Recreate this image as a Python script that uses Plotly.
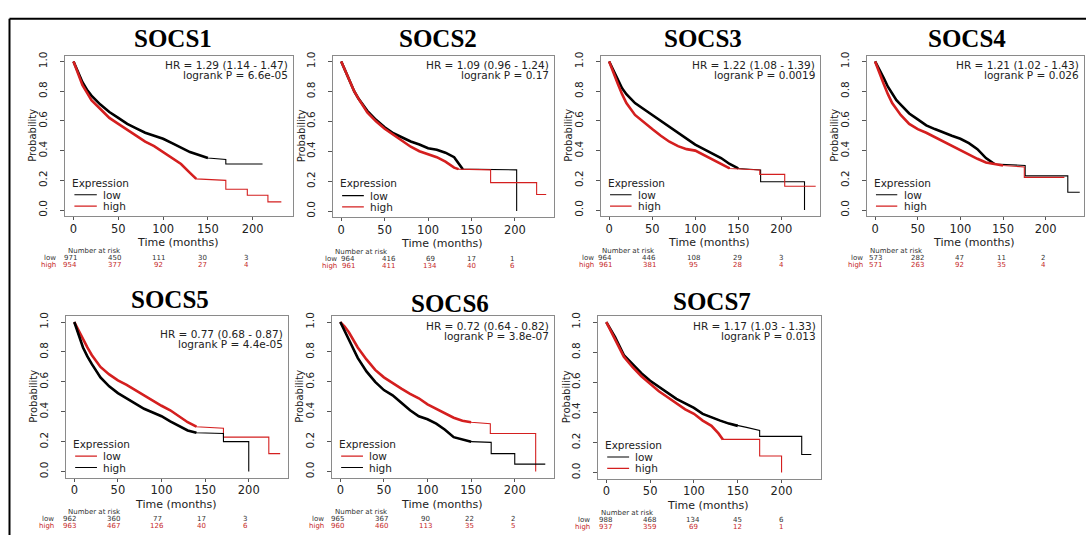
import plotly.graph_objects as go

# ---------------- data ----------------
genes = ["SOCS1", "SOCS2", "SOCS3", "SOCS4", "SOCS5", "SOCS6", "SOCS7"]
hr_labels = ["HR = 1.29 (1.14 - 1.47)", "HR = 1.09 (0.96 - 1.24)", "HR = 1.22 (1.08 - 1.39)",
             "HR = 1.21 (1.02 - 1.43)", "HR = 0.77 (0.68 - 0.87)", "HR = 0.72 (0.64 - 0.82)",
             "HR = 1.17 (1.03 - 1.33)"]
logrank_labels = ["logrank P = 6.6e-05", "logrank P = 0.17", "logrank P = 0.0019",
                  "logrank P = 0.026", "logrank P = 4.4e-05", "logrank P = 3.8e-07",
                  "logrank P = 0.013"]
x_ticks = [0, 50, 100, 150, 200]
y_ticks = [0.0, 0.2, 0.4, 0.6, 0.8, 1.0]
y_tick_text = ["0.0", "0.2", "0.4", "0.6", "0.8", "1.0"]
risk_times = [0, 50, 100, 150, 200]

risk_low = [[971, 450, 111, 30, 3], [964, 416, 69, 17, 1], [964, 446, 108, 29, 3],
            [573, 282, 47, 11, 2], [962, 360, 77, 17, 3], [965, 367, 90, 22, 2],
            [988, 468, 134, 45, 6]]
risk_high = [[954, 377, 92, 27, 4], [961, 411, 134, 40, 6], [961, 381, 95, 28, 4],
             [571, 263, 92, 35, 4], [963, 467, 126, 40, 6], [960, 460, 113, 35, 5],
             [937, 359, 69, 12, 1]]
# in SOCS5 and SOCS6 the "low" group is drawn red and "high" black
low_is_red = [False, False, False, False, True, True, False]

socs1_low_t = [0, 5, 10, 15, 20, 30, 40, 50, 60, 70, 80, 90, 100, 110, 120, 130, 140, 150, 170, 170, 211]
socs1_low_s = [1.0, 0.93, 0.86, 0.81, 0.77, 0.71, 0.66, 0.62, 0.58, 0.55, 0.52, 0.50, 0.48, 0.45, 0.42, 0.39, 0.37, 0.35, 0.34, 0.31, 0.31]
socs1_high_t = [0, 5, 10, 15, 20, 30, 40, 50, 60, 70, 80, 90, 100, 110, 120, 130, 137, 170, 170, 194, 194, 217, 217, 232]
socs1_high_s = [1.0, 0.92, 0.84, 0.79, 0.74, 0.68, 0.62, 0.58, 0.54, 0.50, 0.46, 0.43, 0.39, 0.35, 0.31, 0.25, 0.21, 0.20, 0.14, 0.14, 0.10, 0.10, 0.055, 0.055]

socs2_low_t = [0, 5, 10, 15, 20, 30, 40, 50, 60, 70, 80, 90, 100, 110, 120, 130, 140, 202, 202]
socs2_low_s = [1.0, 0.93, 0.86, 0.80, 0.75, 0.67, 0.61, 0.56, 0.52, 0.49, 0.465, 0.445, 0.42, 0.41, 0.39, 0.36, 0.28, 0.275, 0.0]
socs2_high_t = [0, 5, 10, 15, 20, 30, 40, 50, 60, 70, 80, 90, 100, 110, 120, 130, 135, 172, 172, 225, 225, 236]
socs2_high_s = [1.0, 0.93, 0.86, 0.80, 0.75, 0.66, 0.60, 0.55, 0.51, 0.47, 0.43, 0.40, 0.38, 0.36, 0.33, 0.29, 0.28, 0.275, 0.19, 0.19, 0.11, 0.11]

socs3_low_t = [0, 5, 10, 15, 20, 30, 40, 50, 60, 70, 80, 90, 100, 110, 120, 130, 140, 150, 176, 176, 227, 227]
socs3_low_s = [1.0, 0.94, 0.88, 0.82, 0.78, 0.72, 0.68, 0.64, 0.60, 0.56, 0.52, 0.48, 0.44, 0.41, 0.38, 0.35, 0.31, 0.28, 0.27, 0.19, 0.19, 0.0]
socs3_high_t = [0, 5, 10, 15, 20, 30, 40, 50, 60, 70, 80, 90, 100, 110, 120, 130, 140, 175, 175, 204, 204, 240]
socs3_high_s = [1.0, 0.92, 0.85, 0.78, 0.72, 0.64, 0.59, 0.545, 0.50, 0.46, 0.43, 0.41, 0.40, 0.37, 0.34, 0.31, 0.28, 0.27, 0.24, 0.24, 0.16, 0.16]

socs4_low_t = [0, 5, 10, 15, 20, 25, 30, 40, 50, 60, 70, 80, 90, 100, 110, 120, 130, 140, 176, 176, 226, 226, 240]
socs4_low_s = [1.0, 0.95, 0.89, 0.83, 0.78, 0.74, 0.71, 0.65, 0.61, 0.57, 0.545, 0.52, 0.50, 0.48, 0.45, 0.41, 0.35, 0.31, 0.30, 0.23, 0.23, 0.12, 0.12]
socs4_high_t = [0, 5, 10, 15, 20, 25, 30, 40, 50, 60, 70, 80, 90, 100, 110, 120, 130, 140, 150, 175, 175, 222]
socs4_high_s = [1.0, 0.92, 0.85, 0.78, 0.72, 0.68, 0.64, 0.58, 0.545, 0.52, 0.49, 0.46, 0.43, 0.40, 0.37, 0.345, 0.32, 0.31, 0.30, 0.29, 0.22, 0.22]

socs5_low_t = [0, 5, 10, 15, 20, 30, 40, 50, 60, 70, 80, 90, 100, 110, 120, 130, 140, 171, 171, 223, 223, 236]
socs5_low_s = [1.0, 0.94, 0.88, 0.83, 0.78, 0.70, 0.65, 0.61, 0.58, 0.545, 0.51, 0.47, 0.44, 0.41, 0.37, 0.33, 0.30, 0.29, 0.23, 0.23, 0.12, 0.12]
socs5_high_t = [0, 5, 10, 15, 20, 30, 40, 50, 60, 70, 80, 90, 100, 110, 120, 130, 140, 171, 171, 200, 200]
socs5_high_s = [1.0, 0.91, 0.83, 0.77, 0.72, 0.63, 0.57, 0.525, 0.49, 0.455, 0.42, 0.395, 0.37, 0.335, 0.305, 0.275, 0.26, 0.255, 0.20, 0.20, 0.0]

socs6_low_t = [0, 5, 10, 15, 20, 30, 40, 50, 60, 70, 80, 90, 100, 110, 120, 130, 140, 150, 172, 172, 224, 224]
socs6_low_s = [1.0, 0.97, 0.93, 0.88, 0.83, 0.75, 0.68, 0.63, 0.59, 0.555, 0.52, 0.49, 0.45, 0.42, 0.39, 0.36, 0.34, 0.33, 0.32, 0.255, 0.255, 0.0]
socs6_high_t = [0, 5, 10, 15, 20, 30, 40, 50, 60, 70, 80, 90, 100, 110, 120, 130, 140, 150, 173, 173, 200, 200, 235]
socs6_high_s = [1.0, 0.94, 0.88, 0.82, 0.76, 0.67, 0.60, 0.545, 0.51, 0.46, 0.41, 0.37, 0.35, 0.32, 0.28, 0.23, 0.215, 0.20, 0.195, 0.12, 0.12, 0.05, 0.05]

socs7_low_t = [0, 5, 10, 20, 30, 40, 50, 60, 70, 80, 90, 100, 110, 120, 130, 140, 150, 160, 175, 175, 223, 223, 234]
socs7_low_s = [1.0, 0.95, 0.90, 0.78, 0.72, 0.66, 0.61, 0.57, 0.53, 0.49, 0.46, 0.43, 0.39, 0.365, 0.345, 0.325, 0.31, 0.30, 0.28, 0.24, 0.24, 0.12, 0.12]
socs7_high_t = [0, 5, 10, 20, 30, 40, 50, 60, 70, 80, 90, 100, 110, 120, 128, 133, 175, 175, 200, 200]
socs7_high_s = [1.0, 0.94, 0.88, 0.77, 0.70, 0.64, 0.59, 0.54, 0.50, 0.46, 0.42, 0.39, 0.345, 0.31, 0.26, 0.22, 0.22, 0.11, 0.11, 0.0]

curves = [
    (socs1_low_t, socs1_low_s, socs1_high_t, socs1_high_s),
    (socs2_low_t, socs2_low_s, socs2_high_t, socs2_high_s),
    (socs3_low_t, socs3_low_s, socs3_high_t, socs3_high_s),
    (socs4_low_t, socs4_low_s, socs4_high_t, socs4_high_s),
    (socs5_low_t, socs5_low_s, socs5_high_t, socs5_high_s),
    (socs6_low_t, socs6_low_s, socs6_high_t, socs6_high_s),
    (socs7_low_t, socs7_low_s, socs7_high_t, socs7_high_s),
]

# ---------------- layout (pixels) ----------------
W, H = 1086, 536
boxes = [(65, 293, 52, 214), (333, 554, 52, 215), (601, 820, 52, 214), (867, 1084, 52, 214),
         (66, 288, 315, 478), (332, 554, 315, 478), (598, 821, 315, 479)]
XR = [-9.5, 245]
YR = [-0.04, 1.04]
title_xy = [(173, 35), (438, 35), (703, 35), (967, 35), (170, 298), (450, 302), (712, 300)]
hr_dy = [9.5, 9.5, 9.5, 9.5, 18, 10, 10]
risk_col0 = [70, 348, 605, 875, 69, 337, 605]
risk_dcol = [44, 41, 44, 42, 44, 44, 44]
risk_lab_right = [58, 339, 596, 865, 56, 326, 592]
risk_nar_left = [66, 333, 600, 868, 66, 333, 599]
DENSE_UNTIL = 150   # region where censor marks make the curves look heavy

RED = "#d41f1f"
BLACK = "#000000"
FONT = "DejaVu Sans"


def pxx(x):
    return x / W


def pxy(y):
    return 1 - y / H


fig = go.Figure()
annotations = []
shapes = []

for i in range(7):
    k = "" if i == 0 else str(i + 1)
    L, R, T, B = boxes[i]
    lt, ls, ht, hs = curves[i]
    c_low, c_high = (RED, BLACK) if low_is_red[i] else (BLACK, RED)

    for tt, ss, col in ((lt, ls, c_low), (ht, hs, c_high)):
        fig.add_trace(go.Scatter(x=tt, y=ss, mode="lines", line=dict(color=col, width=1.1),
                                 xaxis="x" + k, yaxis="y" + k, showlegend=False,
                                 hoverinfo="skip"))
        n = sum(1 for t in tt if t <= DENSE_UNTIL)
        fig.add_trace(go.Scatter(x=tt[:n], y=ss[:n], mode="lines", line=dict(color=col, width=2.6),
                                 xaxis="x" + k, yaxis="y" + k, showlegend=False,
                                 hoverinfo="skip"))

    fig.update_layout(**{
        "xaxis" + k: dict(domain=[L / W, R / W], range=XR, anchor="y" + k,
                          tickvals=x_ticks, ticks="outside", ticklen=3, tickcolor="#555",
                          ticklabelstandoff=-1,
                          showline=True, linecolor="#8a8a8a", linewidth=1, mirror=True,
                          showgrid=False, zeroline=False,
                          tickfont=dict(family=FONT, size=11.5, color="#222")),
        "yaxis" + k: dict(domain=[1 - B / H, 1 - T / H], range=YR, anchor="x" + k,
                          tickvals=y_ticks, ticktext=y_tick_text, tickangle=-90,
                          ticks="outside", ticklen=4, tickcolor="#555",
                          ticklabelstandoff=9,
                          showline=True, linecolor="#8a8a8a", linewidth=1, mirror=True,
                          showgrid=False, zeroline=False,
                          tickfont=dict(family=FONT, size=10.5, color="#222")),
    })

    # title
    annotations.append(dict(x=pxx(title_xy[i][0]), y=pxy(title_xy[i][1]), xref="paper", yref="paper",
                            text="<b>" + genes[i] + "</b>", showarrow=False,
                            font=dict(family="Liberation Serif", size=25, color="#000"),
                            xanchor="center", yanchor="middle"))
    # HR text
    annotations.append(dict(x=pxx(R - 3), y=pxy(T + hr_dy[i]), xref="paper", yref="paper",
                            text=hr_labels[i], showarrow=False, xanchor="right", yanchor="middle",
                            font=dict(family=FONT, size=10.5, color="#222")))
    annotations.append(dict(x=pxx(R - 3), y=pxy(T + hr_dy[i] + 10), xref="paper", yref="paper",
                            text=logrank_labels[i], showarrow=False, xanchor="right", yanchor="middle",
                            font=dict(family=FONT, size=10.5, color="#222")))
    # axis titles
    annotations.append(dict(x=pxx((L + R) / 2 - 2), y=pxy(B + 27), xref="paper", yref="paper",
                            text="Time (months)", showarrow=False, xanchor="center", yanchor="middle",
                            font=dict(family=FONT, size=11, color="#222")))
    annotations.append(dict(x=pxx(L - 32), y=pxy((T + B) / 2), xref="paper", yref="paper",
                            text="Probability", showarrow=False, xanchor="center", yanchor="middle",
                            textangle=-90, font=dict(family=FONT, size=10, color="#222")))
    # legend
    xa, ya = "x" + k, "y" + k
    annotations.append(dict(x=-4, y=0.185, xref=xa, yref=ya, text="Expression", showarrow=False,
                            xanchor="left", yanchor="middle",
                            font=dict(family=FONT, size=10.5, color="#222")))
    for lab, yy, col in (("low", 0.103, c_low), ("high", 0.027, c_high)):
        shapes.append(dict(type="line", xref=xa, yref=ya, x0=1, x1=26, y0=yy, y1=yy,
                           line=dict(color=col, width=1.2)))
        annotations.append(dict(x=31, y=yy, xref=xa, yref=ya, text=lab, showarrow=False,
                                xanchor="left", yanchor="middle",
                                font=dict(family=FONT, size=10.5, color="#222")))
    # number at risk table
    annotations.append(dict(x=pxx(risk_nar_left[i]), y=pxy(B + 35), xref="paper", yref="paper",
                            text="Number at risk", showarrow=False, xanchor="left", yanchor="middle",
                            font=dict(family=FONT, size=7, color="#333")))
    for lab, row, yoff, col in (("low", risk_low[i], 42, "#333"), ("high", risk_high[i], 49, "#c62828")):
        annotations.append(dict(x=pxx(risk_lab_right[i]), y=pxy(B + yoff), xref="paper", yref="paper",
                                text=lab, showarrow=False, xanchor="right", yanchor="middle",
                                font=dict(family=FONT, size=7, color=col)))
        for j, v in enumerate(row):
            annotations.append(dict(x=pxx(risk_col0[i] + risk_dcol[i] * j), y=pxy(B + yoff),
                                    xref="paper", yref="paper", text=str(v), showarrow=False,
                                    xanchor="center", yanchor="middle",
                                    font=dict(family=FONT, size=7, color=col)))

# outer frame
shapes.append(dict(type="line", xref="paper", yref="paper", x0=pxx(9.5), x1=1.0, y0=pxy(15), y1=pxy(15),
                   line=dict(color="#000", width=2)))
shapes.append(dict(type="line", xref="paper", yref="paper", x0=pxx(9.5), x1=pxx(9.5), y0=pxy(15), y1=0,
                   line=dict(color="#000", width=2)))

fig.update_layout(width=W, height=H, autosize=False, margin=dict(l=0, r=0, t=0, b=0),
                  paper_bgcolor="white", plot_bgcolor="white",
                  annotations=annotations, shapes=shapes, showlegend=False)

fig.write_html("out.html", config={"displayModeBar": False},
               post_script="document.body.style.margin='0';document.body.style.padding='0';"
                           "document.documentElement.style.overflow='hidden';")
